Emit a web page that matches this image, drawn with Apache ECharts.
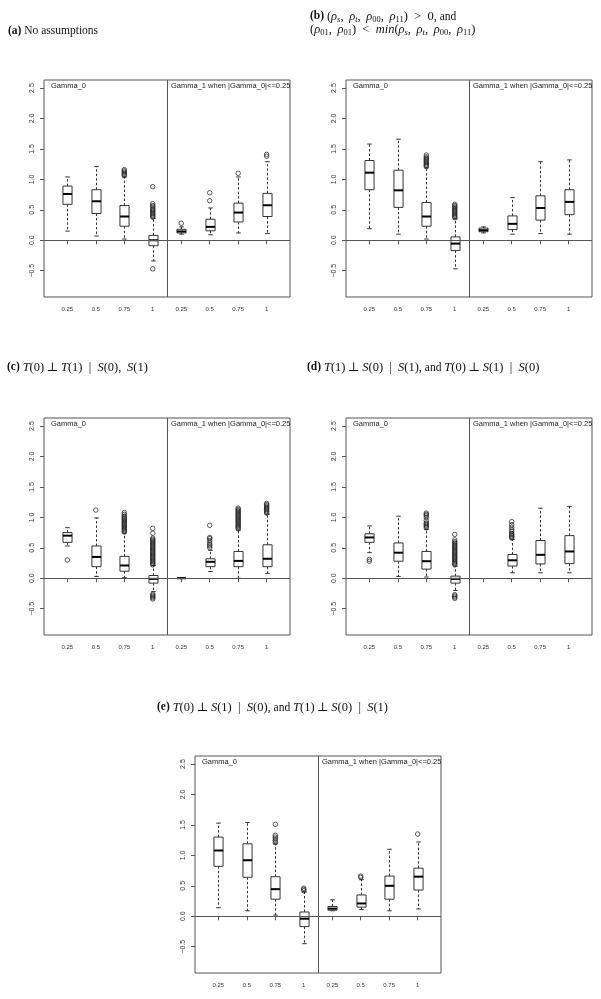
<!DOCTYPE html>
<html><head><meta charset="utf-8">
<script src="https://cdn.jsdelivr.net/npm/echarts@6/dist/echarts.min.js"></script>
<style>html,body{margin:0;padding:0;background:#fff}#c{width:601px;height:999px}</style>
</head><body><div id="c"></div>
<script>
// ---------- data ----------
const X_LABELS = ['0.25', '0.5', '0.75', '1'];
const Y_TICKS = [-0.5, 0, 0.5, 1, 1.5, 2, 2.5];
const PANEL_LEFT_LABEL = 'Gamma_0';
const PANEL_RIGHT_LABEL = 'Gamma_1 when |Gamma_0|<=0.25';

// boxes: [lower whisker, Q1, median, Q3, upper whisker], positions 1..8
const boxA = [
  [0.15, 0.59, 0.76, 0.89, 1.04],
  [0.07, 0.44, 0.64, 0.83, 1.21],
  [0.02, 0.23, 0.39, 0.57, 1.04],
  [-0.34, -0.09, 0.00, 0.08, 0.36],
  [0.10, 0.12, 0.145, 0.18, 0.22],
  [0.09, 0.155, 0.22, 0.345, 0.53],
  [0.12, 0.30, 0.455, 0.61, 1.04],
  [0.11, 0.39, 0.575, 0.77, 1.29]
];
const outA = [
  [], [],
  [1.06, 1.08, 1.10, 1.12, 1.14, 1.16],
  [0.38, 0.40, 0.42, 0.44, 0.46, 0.48, 0.50, 0.52, 0.55, 0.57, 0.60, 0.88, -0.47],
  [0.28],
  [0.65, 0.78],
  [1.10],
  [1.38, 1.41]
];

const boxB = [
  [0.19, 0.83, 1.11, 1.31, 1.58],
  [0.10, 0.54, 0.82, 1.15, 1.66],
  [0.02, 0.23, 0.39, 0.62, 1.19],
  [-0.47, -0.17, -0.055, 0.055, 0.35],
  [0.12, 0.14, 0.165, 0.20, 0.22],
  [0.10, 0.175, 0.27, 0.40, 0.70],
  [0.11, 0.33, 0.53, 0.73, 1.29],
  [0.10, 0.42, 0.63, 0.83, 1.32]
];
const outB = [
  [], [],
  [1.21, 1.23, 1.25, 1.27, 1.29, 1.31, 1.33, 1.35, 1.37, 1.40],
  [0.37, 0.39, 0.41, 0.43, 0.45, 0.47, 0.49, 0.51, 0.53, 0.55, 0.57, 0.59],
  [], [], [], []
];

const boxC = [
  [0.53, 0.59, 0.70, 0.75, 0.83],
  [0.03, 0.19, 0.35, 0.53, 0.99],
  [0.01, 0.115, 0.21, 0.36, 0.74],
  [-0.22, -0.08, -0.01, 0.045, 0.21],
  [0.00, 0.00, 0.00, 0.00, 0.00],
  [0.11, 0.19, 0.27, 0.32, 0.46],
  [0.00, 0.19, 0.285, 0.44, 0.79],
  [0.08, 0.19, 0.32, 0.55, 1.05]
];
const outC = [
  [0.30],
  [1.12],
  [0.76, 0.78, 0.80, 0.82, 0.84, 0.86, 0.88, 0.90, 0.92, 0.94, 0.96, 0.98, 1.00, 1.02, 1.05, 1.08],
  [0.22, 0.24, 0.26, 0.28, 0.30, 0.32, 0.34, 0.36, 0.38, 0.40, 0.42, 0.44, 0.46, 0.48, 0.50,
   0.52, 0.54, 0.56, 0.58, 0.60, 0.62, 0.64, 0.66, 0.74, 0.82, -0.26, -0.28, -0.30, -0.32, -0.34],
  [],
  [0.50, 0.53, 0.55, 0.58, 0.62, 0.65, 0.67, 0.87],
  [0.81, 0.83, 0.85, 0.87, 0.89, 0.91, 0.93, 0.95, 0.97, 0.99, 1.01, 1.03, 1.05, 1.07, 1.09, 1.11, 1.13, 1.15],
  [1.07, 1.09, 1.11, 1.13, 1.15, 1.17, 1.19, 1.21, 1.23]
];

const boxD = [
  [0.42, 0.59, 0.67, 0.73, 0.86],
  [0.03, 0.28, 0.42, 0.58, 1.02],
  [0.02, 0.15, 0.28, 0.44, 0.80],
  [-0.20, -0.08, -0.01, 0.035, 0.20],
  null,
  [0.09, 0.20, 0.295, 0.39, 0.64],
  [0.09, 0.235, 0.385, 0.62, 1.15],
  [0.09, 0.24, 0.44, 0.70, 1.18]
];
const outD = [
  [0.28, 0.31],
  [],
  [0.83, 0.85, 0.87, 0.89, 0.91, 0.95, 1.00, 1.03, 1.05, 1.07],
  [0.22, 0.24, 0.26, 0.28, 0.30, 0.32, 0.34, 0.36, 0.38, 0.40, 0.42, 0.44, 0.46, 0.48, 0.50,
   0.52, 0.54, 0.56, 0.58, 0.60, 0.63, 0.72, -0.27, -0.29, -0.31, -0.33],
  [],
  [0.66, 0.68, 0.70, 0.72, 0.74, 0.77, 0.80, 0.84, 0.88, 0.93],
  [], []
];

const boxE = [
  [0.14, 0.82, 1.08, 1.30, 1.53],
  [0.09, 0.64, 0.92, 1.19, 1.54],
  [0.02, 0.28, 0.445, 0.65, 1.19],
  [-0.45, -0.17, -0.04, 0.07, 0.40],
  [0.09, 0.10, 0.125, 0.16, 0.27],
  [0.11, 0.15, 0.21, 0.35, 0.60],
  [0.09, 0.28, 0.50, 0.66, 1.10],
  [0.12, 0.43, 0.65, 0.79, 1.22]
];
const outE = [
  [], [],
  [1.21, 1.24, 1.27, 1.30, 1.33, 1.51],
  [0.42, 0.44, 0.46],
  [],
  [0.64, 0.66],
  [],
  [1.35]
];

const PANEL_BOXES = [boxA, boxB, boxC, boxD, boxE];
const PANEL_OUTLIERS = [outA, outB, outC, outD, outE];

// ---------- layout / style ----------
const GRIDS = [
  { left: 44, top: 80 }, { left: 346, top: 80 },
  { left: 44, top: 418 }, { left: 346, top: 418 },
  { left: 195, top: 756 }
];
const GW = 246, GH = 217;
const X_MIN = 0.18, X_MAX = 8.82, Y_MIN = -0.932, Y_MAX = 2.632;
const BOX_W = 0.32;
const SANS = "'Liberation Sans', Arial, Helvetica, sans-serif";
const SERIF = "'Liberation Serif', 'DejaVu Serif', 'Times New Roman', serif";
const LINE = '#333';
const FRAME = '#555';

function renderBox(params, api) {
  const x = api.value(0);
  const v = [1, 2, 3, 4, 5].map(i => api.value(i));
  const half = api.size([BOX_W, 0])[0] / 2;
  const cap = half / 2;
  const c = val => api.coord([x, val]);
  const pMin = c(v[0]), pQ1 = c(v[1]), pMed = c(v[2]), pQ3 = c(v[3]), pMax = c(v[4]);
  const cx = Math.round(pMed[0]) + 0.5;
  const dash = { stroke: LINE, lineWidth: 1, lineDash: [2.5, 2] };
  const solid = { stroke: LINE, lineWidth: 1 };
  return {
    type: 'group',
    children: [
      { type: 'line', shape: { x1: cx, y1: pQ3[1], x2: cx, y2: pMax[1] }, style: dash },
      { type: 'line', shape: { x1: cx, y1: pQ1[1], x2: cx, y2: pMin[1] }, style: dash },
      { type: 'line', shape: { x1: cx - cap, y1: pMax[1], x2: cx + cap, y2: pMax[1] }, style: solid },
      { type: 'line', shape: { x1: cx - cap, y1: pMin[1], x2: cx + cap, y2: pMin[1] }, style: solid },
      { type: 'rect', shape: { x: cx - half, y: pQ3[1], width: 2 * half, height: pQ1[1] - pQ3[1] },
        style: { fill: '#fff', stroke: LINE, lineWidth: 1 } },
      { type: 'line', shape: { x1: cx - half, y1: pMed[1], x2: cx + half, y2: pMed[1] },
        style: { stroke: '#000', lineWidth: 2 } }
    ]
  };
}

const grid = [], xAxis = [], yAxis = [], series = [], graphic = [];
const POS = [1, 2, 3, 4, 5, 6, 7, 8];

GRIDS.forEach((g, i) => {
  grid.push({ left: g.left, top: g.top, width: GW, height: GH, show: true,
    borderColor: FRAME, borderWidth: 1, backgroundColor: 'transparent', containLabel: false });
  xAxis.push({
    type: 'value', gridIndex: i, min: X_MIN, max: X_MAX,
    axisLine: { show: false }, splitLine: { show: false },
    axisTick: { show: true, length: 4, inside: false, customValues: POS, lineStyle: { color: FRAME } },
    axisLabel: { show: true, customValues: POS, margin: 9, fontSize: 6, fontFamily: SANS, color: '#333',
      formatter: v => X_LABELS[(Math.round(v) - 1) % 4] }
  });
  yAxis.push({
    type: 'value', gridIndex: i, min: Y_MIN, max: Y_MAX,
    axisLine: { show: false }, splitLine: { show: false },
    axisTick: { show: true, length: 4, inside: false, customValues: Y_TICKS, lineStyle: { color: FRAME } },
    axisLabel: { show: true, customValues: Y_TICKS, rotate: 90, margin: 8, fontSize: 7, fontFamily: SANS, color: '#333',
      formatter: v => (v < 0 ? '\u2212' : '') + Math.abs(v).toFixed(1) }
  });
  const boxes = PANEL_BOXES[i];
  series.push({
    type: 'custom', xAxisIndex: i, yAxisIndex: i, renderItem: renderBox, silent: true,
    encode: { x: 0, y: [1, 2, 3, 4, 5] },
    data: boxes.map((b, k) => b ? [k + 1].concat(b) : null).filter(Boolean)
  });
  const outs = [];
  PANEL_OUTLIERS[i].forEach((list, k) => list.forEach(v => outs.push([k + 1, v])));
  series.push({
    type: 'scatter', xAxisIndex: i, yAxisIndex: i, silent: true, symbol: 'circle', symbolSize: 4.5,
    itemStyle: { color: 'rgba(0,0,0,0)', borderColor: '#1a1a1a', borderWidth: 0.9 },
    data: outs,
    markLine: { silent: true, symbol: 'none', label: { show: false },
      lineStyle: { color: FRAME, width: 1, type: 'solid' }, animation: false,
      data: [{ yAxis: 0 }, { xAxis: 4.5 }] }
  });
  const divX = g.left + (4.5 - X_MIN) / (X_MAX - X_MIN) * GW;
  graphic.push({ type: 'text', left: g.left + 7, top: g.top + 2,
    style: { text: PANEL_LEFT_LABEL, fontSize: 7.5, fontFamily: SANS, fill: '#222' } });
  graphic.push({ type: 'text', left: divX + 4, top: g.top + 2,
    style: { text: PANEL_RIGHT_LABEL, fontSize: 7.5, fontFamily: SANS, fill: '#222' } });
});

const FS = 11.5, MS = 12.5, SS = 8.5;
const T = '#111';
const rich = {
  b: { fontFamily: SERIF, fontWeight: 'bold', fontSize: FS, lineHeight: 13, fill: T },
  n: { fontFamily: SERIF, fontSize: FS, lineHeight: 13, fill: T },
  m: { fontFamily: SERIF, fontSize: MS, lineHeight: 13, fill: T },
  i: { fontFamily: SERIF, fontStyle: 'italic', fontSize: MS, lineHeight: 13, fill: T },
  s: { fontFamily: SERIF, fontStyle: 'italic', fontSize: SS, lineHeight: 8, padding: [6, 0, 0, 0], fill: T },
  d: { fontFamily: SERIF, fontSize: SS, lineHeight: 8, padding: [6, 0, 0, 0], fill: T }
};
const TITLES = [
  { x: 8, y: 25, text: '{b|(a)}{n| No assumptions}' },
  { x: 310, y: 9, text:
    '{b|(b)}{n| }{m|(}{i|ρ}{s|s}{m|,\u2009 }{i|ρ}{s|t}{m|,\u2009 }{i|ρ}{d|00}{m|,\u2009 }{i|ρ}{d|11}{m|)  >  0,}{n| and}\n' +
    '{m|(}{i|ρ}{d|01}{m|,\u2009 }{i|ρ}{d|01}{m|)  <  }{i|min}{m|(}{i|ρ}{s|s}{m|,\u2009 }{i|ρ}{s|t}{m|,\u2009 }{i|ρ}{d|00}{m|,\u2009 }{i|ρ}{d|11}{m|)}' },
  { x: 7, y: 361, text: '{b|(c)}{n| }{i|T}{m|(0)\u2009⊥\u2009}{i|T}{m|(1)  |  }{i|S}{m|(0),\u2009 }{i|S}{m|(1)}' },
  { x: 307, y: 361, text: '{b|(d)}{n| }{i|T}{m|(1)\u2009⊥\u2009}{i|S}{m|(0)  |  }{i|S}{m|(1),}{n| and }{i|T}{m|(0)\u2009⊥\u2009}{i|S}{m|(1)  |  }{i|S}{m|(0)}' },
  { x: 157, y: 701, text: '{b|(e)}{n| }{i|T}{m|(0)\u2009⊥\u2009}{i|S}{m|(1)  |  }{i|S}{m|(0),}{n| and }{i|T}{m|(1)\u2009⊥\u2009}{i|S}{m|(0)  |  }{i|S}{m|(1)}' }
];
TITLES.forEach(t => graphic.push({ type: 'text', left: t.x, top: t.y,
  style: { text: t.text, rich: rich, fontFamily: SERIF, fontSize: FS, fill: T } }));

const chart = echarts.init(document.getElementById('c'), null, { renderer: 'canvas' });
chart.setOption({ animation: false, backgroundColor: '#fff', grid, xAxis, yAxis, series, graphic });
</script></body></html>
